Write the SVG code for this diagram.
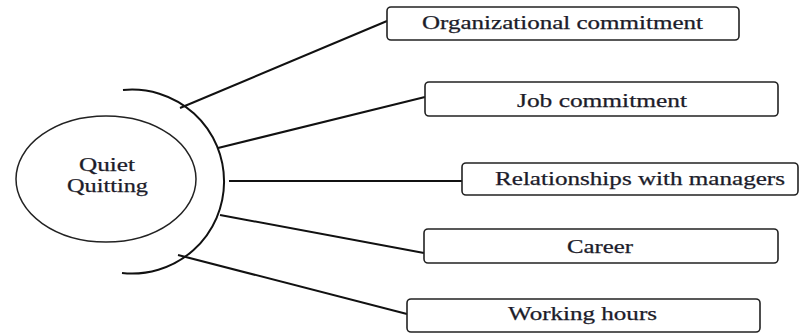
<svg xmlns="http://www.w3.org/2000/svg" width="800" height="333" viewBox="0 0 800 333">
<style>
.box{fill:#fff;stroke:#222;stroke-width:1.6}
.ln{stroke:#111;stroke-width:2;fill:none}
.t{font-family:"Liberation Serif","Times New Roman",serif;font-size:18px;fill:#1c1c2a;stroke:#1c1c2a;stroke-width:0.25;text-anchor:middle}
</style>
<rect width="800" height="333" fill="#fff"/>
<g id="center">
<ellipse cx="106" cy="179" rx="90" ry="63" fill="#fff" stroke="#222" stroke-width="1.5"/>
<text class="t" x="107" y="171" textLength="56" lengthAdjust="spacingAndGlyphs">Quiet</text>
<text class="t" x="107.5" y="192" textLength="81" lengthAdjust="spacingAndGlyphs">Quitting</text>
</g>
<g id="connectors">
<path class="ln" d="M123,90 A92,92 0 1 1 122,273"/>
<line class="ln" x1="180" y1="108" x2="387" y2="21"/>
<line class="ln" x1="218" y1="148" x2="425" y2="97"/>
<line class="ln" x1="229" y1="181" x2="462" y2="181"/>
<line class="ln" x1="220" y1="215" x2="424" y2="253"/>
<line class="ln" x1="178" y1="255" x2="407" y2="314"/>
</g>
<g id="n1"><rect class="box" x="387" y="7" width="352" height="33" rx="4"/><text class="t" x="562.5" y="29" textLength="281" lengthAdjust="spacingAndGlyphs">Organizational commitment</text></g>
<g id="n2"><rect class="box" x="425" y="82" width="353" height="34" rx="4"/><text class="t" x="602" y="107" textLength="170" lengthAdjust="spacingAndGlyphs">Job commitment</text></g>
<g id="n3"><rect class="box" x="462" y="163" width="336" height="32" rx="4"/><text class="t" x="640" y="185" textLength="290" lengthAdjust="spacingAndGlyphs">Relationships with managers</text></g>
<g id="n4"><rect class="box" x="424" y="229" width="354" height="34" rx="4"/><text class="t" x="600" y="253" textLength="66" lengthAdjust="spacingAndGlyphs">Career</text></g>
<g id="n5"><rect class="box" x="407" y="299" width="353" height="33" rx="4"/><text class="t" x="582.5" y="320" textLength="149" lengthAdjust="spacingAndGlyphs">Working hours</text></g>
</svg>
